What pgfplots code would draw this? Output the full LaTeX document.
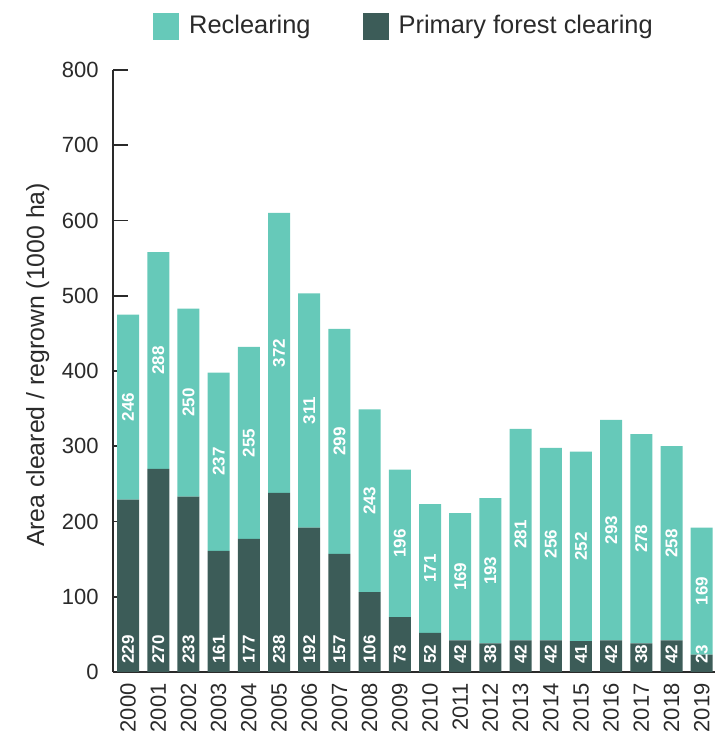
\documentclass[border=0pt]{standalone}
\usepackage{pgfplots}
\pgfplotsset{compat=1.18}
\usepackage{pgfplotstable}
\usepackage{fontspec}
\setmainfont{Liberation Sans}

\definecolor{recl}{HTML}{66C9B9}
\definecolor{prim}{HTML}{3C5C58}
\definecolor{txt}{HTML}{2A2A2A}

% square legend swatch
\pgfplotsset{swatch/.style={legend image code/.code={\fill[##1] (0pt,-6.75pt) rectangle (13pt,6.75pt);}}}
% common frame of the bar axis and the label overlay
\pgfplotsset{frame/.style={scale only axis, width=301pt, height=301pt,
  xmin=-0.5, xmax=19.44, ymin=0, ymax=800, enlargelimits=false, clip=false,
  /pgf/number format/assume math mode=true}}
% white value labels inside the bars
\pgfplotsset{barlabel/.style={draw=none, mark=none, nodes near coords, point meta=explicit,
  every node near coord/.style={font=\bfseries\fontsize{8.5}{10}\selectfont, text=white,
    inner sep=0pt, rotate=90, anchor=#1}}}

% Area cleared per year (1000 ha): primary forest clearing and reclearing
\pgfplotstableread{
x  prim recl
0  229  246
1  270  288
2  233  250
3  161  237
4  177  255
5  238  372
6  192  311
7  157  299
8  106  243
9  73   196
10 52   171
11 42   169
12 38   193
13 42   281
14 42   256
15 41   252
16 42   293
17 38   278
18 42   258
19 23   169
}\clearing

\begin{document}
\begin{tikzpicture}
\begin{axis}[
  frame,
  ybar stacked, bar width=11pt,
  axis lines=left,
  axis line style={-, draw=txt, line width=0.8pt},
  ytick={0,100,...,800},
  major tick length=7.5pt, tick align=inside,
  y tick style={draw=txt, line width=0.8pt},
  x tick style={draw=none},
  xtick={0,...,19},
  xticklabels={2000,2001,2002,2003,2004,2005,2006,2007,2008,2009,2010,2011,2012,2013,2014,2015,2016,2017,2018,2019},
  xticklabel style={font=\fontsize{11}{13}\selectfont, text=txt, inner sep=0pt, yshift=-5.5pt, rotate=90, anchor=east},
  yticklabel style={font=\fontsize{11}{13}\selectfont, text=txt, inner sep=0pt, xshift=-7pt},
  ylabel={Area cleared / regrown (1000 ha)},
  every axis y label/.style={at={(axis description cs:-0.125,0.51)}, rotate=90, anchor=center, font=\fontsize{12.4}{15}\selectfont, text=txt},
  reverse legend,
  legend columns=2,
  legend style={draw=none, fill=none, at={(axis description cs:0.485,1.073)}, anchor=center,
    font=\fontsize{12.7}{15}\selectfont, text=txt,
    /tikz/every odd column/.append style={column sep=3pt},
    /tikz/every even column/.append style={column sep=24pt}},
]
\addplot[fill=prim, draw=none, swatch] table[x=x, y=prim] {\clearing};
\addlegendentry{Primary forest clearing}
\addplot[fill=recl, draw=none, swatch] table[x=x, y=recl] {\clearing};
\addlegendentry{Reclearing}
\path ([xshift=-56.5pt,yshift=-31pt]rel axis cs:0,0) rectangle ([yshift=35pt]rel axis cs:1,1);
\end{axis}

% value labels: primary clearing at the foot of each bar, reclearing centred in its segment
\begin{axis}[frame, hide axis]
\addplot[barlabel=west] table[x=x, y expr=10.6, meta=prim] {\clearing};
\addplot[barlabel=center] table[x=x, y expr=\thisrow{prim}+0.5*\thisrow{recl}, meta=recl] {\clearing};
\end{axis}
\end{tikzpicture}
\end{document}
